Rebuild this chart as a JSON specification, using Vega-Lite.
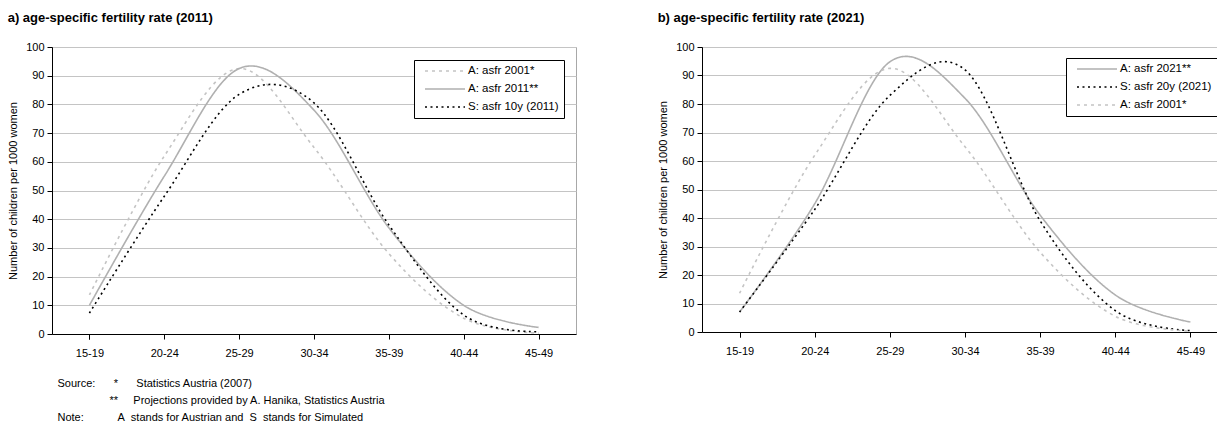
{
  "$schema": "https://vega.github.io/schema/vega-lite/v6.json",
  "padding": {"left": 7, "top": 11, "right": 0, "bottom": 0},
  "config": {
    "font": "Liberation Sans",
    "view": {"stroke": "#a8a8a8", "strokeWidth": 1},
    "axis": {
      "labelFont": "Liberation Sans", "labelFontSize": 11, "labelColor": "#000",
      "titleFont": "Liberation Sans", "titleFontSize": 11, "titleFontWeight": "normal", "titleColor": "#000",
      "domainColor": "#000", "tickColor": "#000", "tickSize": 5, "domainWidth": 1, "tickWidth": 1
    },
    "axisY": {"gridColor": "#c4c4c4", "gridWidth": 1, "values": [0, 10, 20, 30, 40, 50, 60, 70, 80, 90, 100], "titlePadding": 7, "labelPadding": 3},
    "axisX": {"grid": false, "labelAngle": 0, "tickBand": "extent", "labelPadding": 8},
    "title": {"font": "Liberation Sans", "fontSize": 13, "fontWeight": "bold", "color": "#000", "anchor": "start"},
    "legend": {
      "orient": "none", "title": null, "fillColor": "#ffffff", "strokeColor": "#000000", "padding": 5,
      "symbolType": "M-4,0H4", "symbolSize": 100, "symbolStrokeWidth": 1.6, "symbolOffset": 20,
      "labelFont": "Liberation Sans", "labelFontSize": 11.5, "labelColor": "#000", "rowPadding": 6, "labelOffset": 17
    }
  },
  "datasets": {
    "a": [
      {"series": "A: asfr 2001*", "age": "15-19", "value": 13.6},
      {"series": "A: asfr 2001*", "age": "20-24", "value": 62},
      {"series": "A: asfr 2001*", "age": "25-29", "value": 92.5},
      {"series": "A: asfr 2001*", "age": "30-34", "value": 65},
      {"series": "A: asfr 2001*", "age": "35-39", "value": 28},
      {"series": "A: asfr 2001*", "age": "40-44", "value": 5.5},
      {"series": "A: asfr 2001*", "age": "45-49", "value": 0.3},
      {"series": "A: asfr 2011**", "age": "15-19", "value": 10},
      {"series": "A: asfr 2011**", "age": "20-24", "value": 55},
      {"series": "A: asfr 2011**", "age": "25-29", "value": 92.5},
      {"series": "A: asfr 2011**", "age": "30-34", "value": 78},
      {"series": "A: asfr 2011**", "age": "35-39", "value": 37},
      {"series": "A: asfr 2011**", "age": "40-44", "value": 10},
      {"series": "A: asfr 2011**", "age": "45-49", "value": 2.3},
      {"series": "S: asfr 10y (2011)", "age": "15-19", "value": 7.3},
      {"series": "S: asfr 10y (2011)", "age": "20-24", "value": 48},
      {"series": "S: asfr 10y (2011)", "age": "25-29", "value": 83.5},
      {"series": "S: asfr 10y (2011)", "age": "30-34", "value": 80.5},
      {"series": "S: asfr 10y (2011)", "age": "35-39", "value": 38},
      {"series": "S: asfr 10y (2011)", "age": "40-44", "value": 6.6},
      {"series": "S: asfr 10y (2011)", "age": "45-49", "value": 0.8}
    ],
    "b": [
      {"series": "A: asfr 2021**", "age": "15-19", "value": 7},
      {"series": "A: asfr 2021**", "age": "20-24", "value": 45},
      {"series": "A: asfr 2021**", "age": "25-29", "value": 94.8},
      {"series": "A: asfr 2021**", "age": "30-34", "value": 82},
      {"series": "A: asfr 2021**", "age": "35-39", "value": 41},
      {"series": "A: asfr 2021**", "age": "40-44", "value": 13},
      {"series": "A: asfr 2021**", "age": "45-49", "value": 3.5},
      {"series": "S: asfr 20y (2021)", "age": "15-19", "value": 7},
      {"series": "S: asfr 20y (2021)", "age": "20-24", "value": 43},
      {"series": "S: asfr 20y (2021)", "age": "25-29", "value": 83},
      {"series": "S: asfr 20y (2021)", "age": "30-34", "value": 92},
      {"series": "S: asfr 20y (2021)", "age": "35-39", "value": 39},
      {"series": "S: asfr 20y (2021)", "age": "40-44", "value": 7.5},
      {"series": "S: asfr 20y (2021)", "age": "45-49", "value": 0.5},
      {"series": "A: asfr 2001*", "age": "15-19", "value": 13.6},
      {"series": "A: asfr 2001*", "age": "20-24", "value": 62},
      {"series": "A: asfr 2001*", "age": "25-29", "value": 92.5},
      {"series": "A: asfr 2001*", "age": "30-34", "value": 65},
      {"series": "A: asfr 2001*", "age": "35-39", "value": 28},
      {"series": "A: asfr 2001*", "age": "40-44", "value": 5.5},
      {"series": "A: asfr 2001*", "age": "45-49", "value": 0.3}
    ]
  },
  "spacing": 80,
  "hconcat": [
    {
      "width": 524, "height": 287,
      "title": {"text": "a) age-specific fertility rate (2011)", "offset": 16},
      "data": {"name": "a"},
      "mark": {"type": "line", "interpolate": "cardinal", "strokeWidth": 1.6},
      "encoding": {
        "x": {"field": "age", "type": "ordinal", "sort": ["15-19", "20-24", "25-29", "30-34", "35-39", "40-44", "45-49"],
          "scale": {"paddingInner": 0, "paddingOuter": 0},
          "axis": {
            "title": [
              "Source:\u00a0\u00a0\u00a0\u00a0\u00a0\u00a0*\u00a0\u00a0\u00a0\u00a0\u00a0\u00a0Statistics Austria (2007)",
              "\u200b\u00a0\u00a0\u00a0\u00a0\u00a0\u00a0\u00a0\u00a0\u00a0\u00a0\u00a0\u00a0\u00a0\u00a0\u00a0\u00a0\u00a0**\u00a0\u00a0\u00a0\u00a0\u00a0Projections provided by A. Hanika, Statistics Austria",
              "Note:\u00a0\u00a0\u00a0\u00a0\u00a0\u00a0\u00a0\u00a0\u00a0\u00a0\u00a0A\u00a0\u00a0stands for Austrian and\u00a0\u00a0S\u00a0\u00a0stands for Simulated"
            ],
            "titleAlign": "left", "titleAnchor": "start", "titleX": 5, "titleY": 43, "titleBaseline": "top", "titleLineHeight": 17
          }
        },
        "y": {"field": "value", "type": "quantitative", "scale": {"domain": [0, 100]},
          "axis": {"title": "Number of children per 1000 women"}},
        "color": {"field": "series", "type": "nominal",
          "scale": {"domain": ["A: asfr 2001*", "A: asfr 2011**", "S: asfr 10y (2011)"], "range": ["#c4c4c4", "#b0b0b0", "#000000"]},
          "legend": {"legendX": 362, "legendY": 13}},
        "strokeDash": {"field": "series", "type": "nominal",
          "scale": {"domain": ["A: asfr 2001*", "A: asfr 2011**", "S: asfr 10y (2011)"], "range": [[3, 4], [1, 0], [2, 3.5]]},
          "legend": {"legendX": 362, "legendY": 13}}
      }
    },
    {
      "width": 526, "height": 285,
      "title": {"text": "b) age-specific fertility rate (2021)", "offset": 16},
      "data": {"name": "b"},
      "mark": {"type": "line", "interpolate": "cardinal", "strokeWidth": 1.6},
      "encoding": {
        "x": {"field": "age", "type": "ordinal", "sort": ["15-19", "20-24", "25-29", "30-34", "35-39", "40-44", "45-49"],
          "scale": {"paddingInner": 0, "paddingOuter": 0},
          "axis": {"title": null}},
        "y": {"field": "value", "type": "quantitative", "scale": {"domain": [0, 100]},
          "axis": {"title": "Number of children per 1000 women"}},
        "color": {"field": "series", "type": "nominal",
          "scale": {"domain": ["A: asfr 2021**", "S: asfr 20y (2021)", "A: asfr 2001*"], "range": ["#b0b0b0", "#000000", "#c4c4c4"]},
          "legend": {"legendX": 364, "legendY": 11}},
        "strokeDash": {"field": "series", "type": "nominal",
          "scale": {"domain": ["A: asfr 2021**", "S: asfr 20y (2021)", "A: asfr 2001*"], "range": [[1, 0], [2, 3.5], [3, 4]]},
          "legend": {"legendX": 364, "legendY": 11}}
      }
    }
  ],
  "resolve": {"scale": {"color": "independent", "strokeDash": "independent"}, "legend": {"color": "independent", "strokeDash": "independent"}}
}
